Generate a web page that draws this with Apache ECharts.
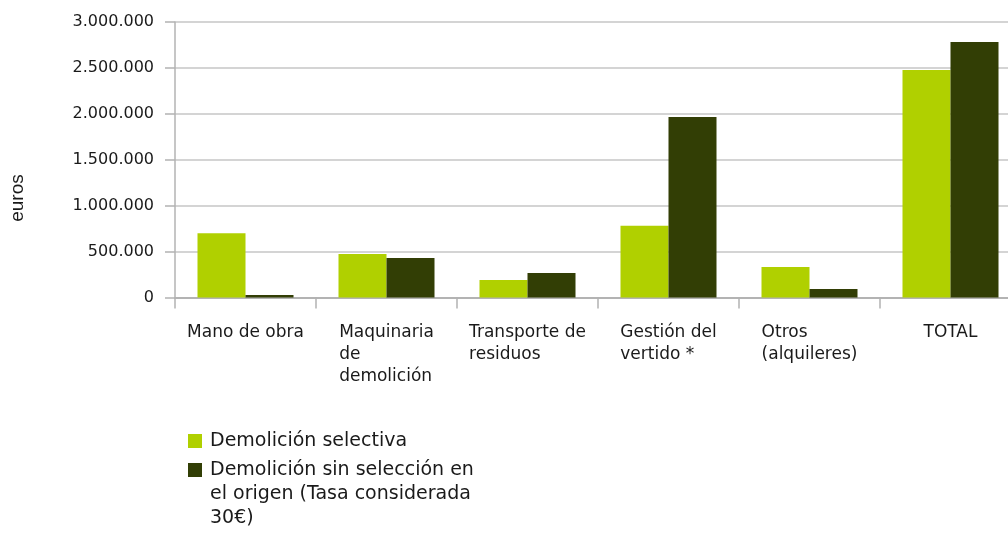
<!DOCTYPE html>
<html>
<head>
<meta charset="utf-8">
<script src="https://cdn.jsdelivr.net/npm/echarts@6/dist/echarts.min.js"></script>
<style>
    html, body { margin: 0; padding: 0; background: #fff; }
    #chart { width: 1008px; height: 535px; }
</style>
</head>
<body>
<div id="chart"></div>
<script>
    // datos
    var categories = ['Mano de obra', 'Maquinaria\nde\ndemolición', 'Transporte de\nresiduos', 'Gestión del\nvertido *', 'Otros\n(alquileres)', 'TOTAL'];
    var seriesNames = ['Demolición selectiva', 'Demolición sin selección en el origen (Tasa considerada 30€)'];
    var selectiva = [700000, 475000, 190000, 780000, 332000, 2477000];
    var sinSeleccion = [27000, 430000, 267000, 1966000, 93000, 2783000];
    var yTicks = [0, 500000, 1000000, 1500000, 2000000, 2500000, 3000000];

    var green = '#b0d000';
    var dark = '#323e05';
    var axisGray = '#b3b3b3';
    var textColor = '#1a1a1a';

    function miles(v) {
        return String(v).replace(/\B(?=(\d{3})+(?!\d))/g, '.');
    }

    var chart = echarts.init(document.getElementById('chart'));
    chart.setOption({
        animation: false,
        grid: {
            left: 175,
            right: -13,   // la ultima categoria se sale del cuadro, como en el original
            top: 22,
            bottom: 237.5,
            outerBoundsMode: 'none'
        },
        legend: [
            {
                data: [seriesNames[0]],
                left: 188,
                top: 429,
                padding: 0,
                orient: 'vertical',
                selectedMode: false,
                itemWidth: 14,
                itemHeight: 14,
                icon: 'rect',
                textStyle: {
                    fontFamily: 'DejaVu Sans',
                    fontSize: 19,
                    lineHeight: 24,
                    color: textColor,
                    padding: [0, 0, 0, 3]
                }
            },
            {
                data: [seriesNames[1]],
                left: 188,
                top: 410,
                padding: 0,
                orient: 'vertical',
                selectedMode: false,
                itemWidth: 14,
                itemHeight: 14,
                icon: 'rect',
                // dos lineas vacias delante para que el icono quede a la altura de la primera linea
                formatter: function () {
                    return '\n\nDemolición sin selección en\nel origen (Tasa considerada\n30€)';
                },
                textStyle: {
                    fontFamily: 'DejaVu Sans',
                    fontSize: 19,
                    lineHeight: 24,
                    color: textColor,
                    padding: [0, 0, 0, 3]
                }
            }
        ],
        graphic: [
            {
                type: 'text',
                x: 18,
                y: 198,
                rotation: Math.PI / 2,
                style: {
                    text: 'euros',
                    fontFamily: 'Liberation Sans',
                    fontSize: 19,
                    fill: textColor,
                    align: 'center',
                    verticalAlign: 'middle'
                }
            }
        ],
        xAxis: {
            type: 'category',
            data: categories,
            axisLine: { lineStyle: { color: axisGray, width: 2 } },
            axisTick: { show: true, length: 11, lineStyle: { color: axisGray, width: 1.5 } },
            axisLabel: {
                interval: 0,
                margin: 24,
                color: textColor,
                fontFamily: 'DejaVu Sans',
                fontSize: 17,
                lineHeight: 22,
                formatter: function (v) {
                    return '{a|' + v + '}';
                },
                rich: {
                    a: {
                        fontFamily: 'DejaVu Sans',
                        fontSize: 17,
                        lineHeight: 22,
                        color: textColor,
                        align: 'left'
                    }
                }
            }
        },
        yAxis: {
            type: 'value',
            min: yTicks[0],
            max: yTicks[yTicks.length - 1],
            interval: yTicks[1] - yTicks[0],
            axisLine: { show: true, lineStyle: { color: axisGray, width: 1.5 } },
            axisTick: { show: true, length: 10, lineStyle: { color: axisGray, width: 1.5 } },
            axisLabel: {
                margin: 21,
                color: textColor,
                fontFamily: 'DejaVu Sans',
                fontSize: 16,
                formatter: miles
            },
            splitLine: { lineStyle: { color: '#c6c6c6', width: 1.5 } }
        },
        series: [
            {
                name: seriesNames[0],
                type: 'bar',
                data: selectiva,
                barWidth: 48,
                barGap: '0%',
                itemStyle: { color: green }
            },
            {
                name: seriesNames[1],
                type: 'bar',
                data: sinSeleccion,
                barWidth: 48,
                barGap: '0%',
                itemStyle: { color: dark }
            }
        ]
    });
</script>
</body>
</html>
